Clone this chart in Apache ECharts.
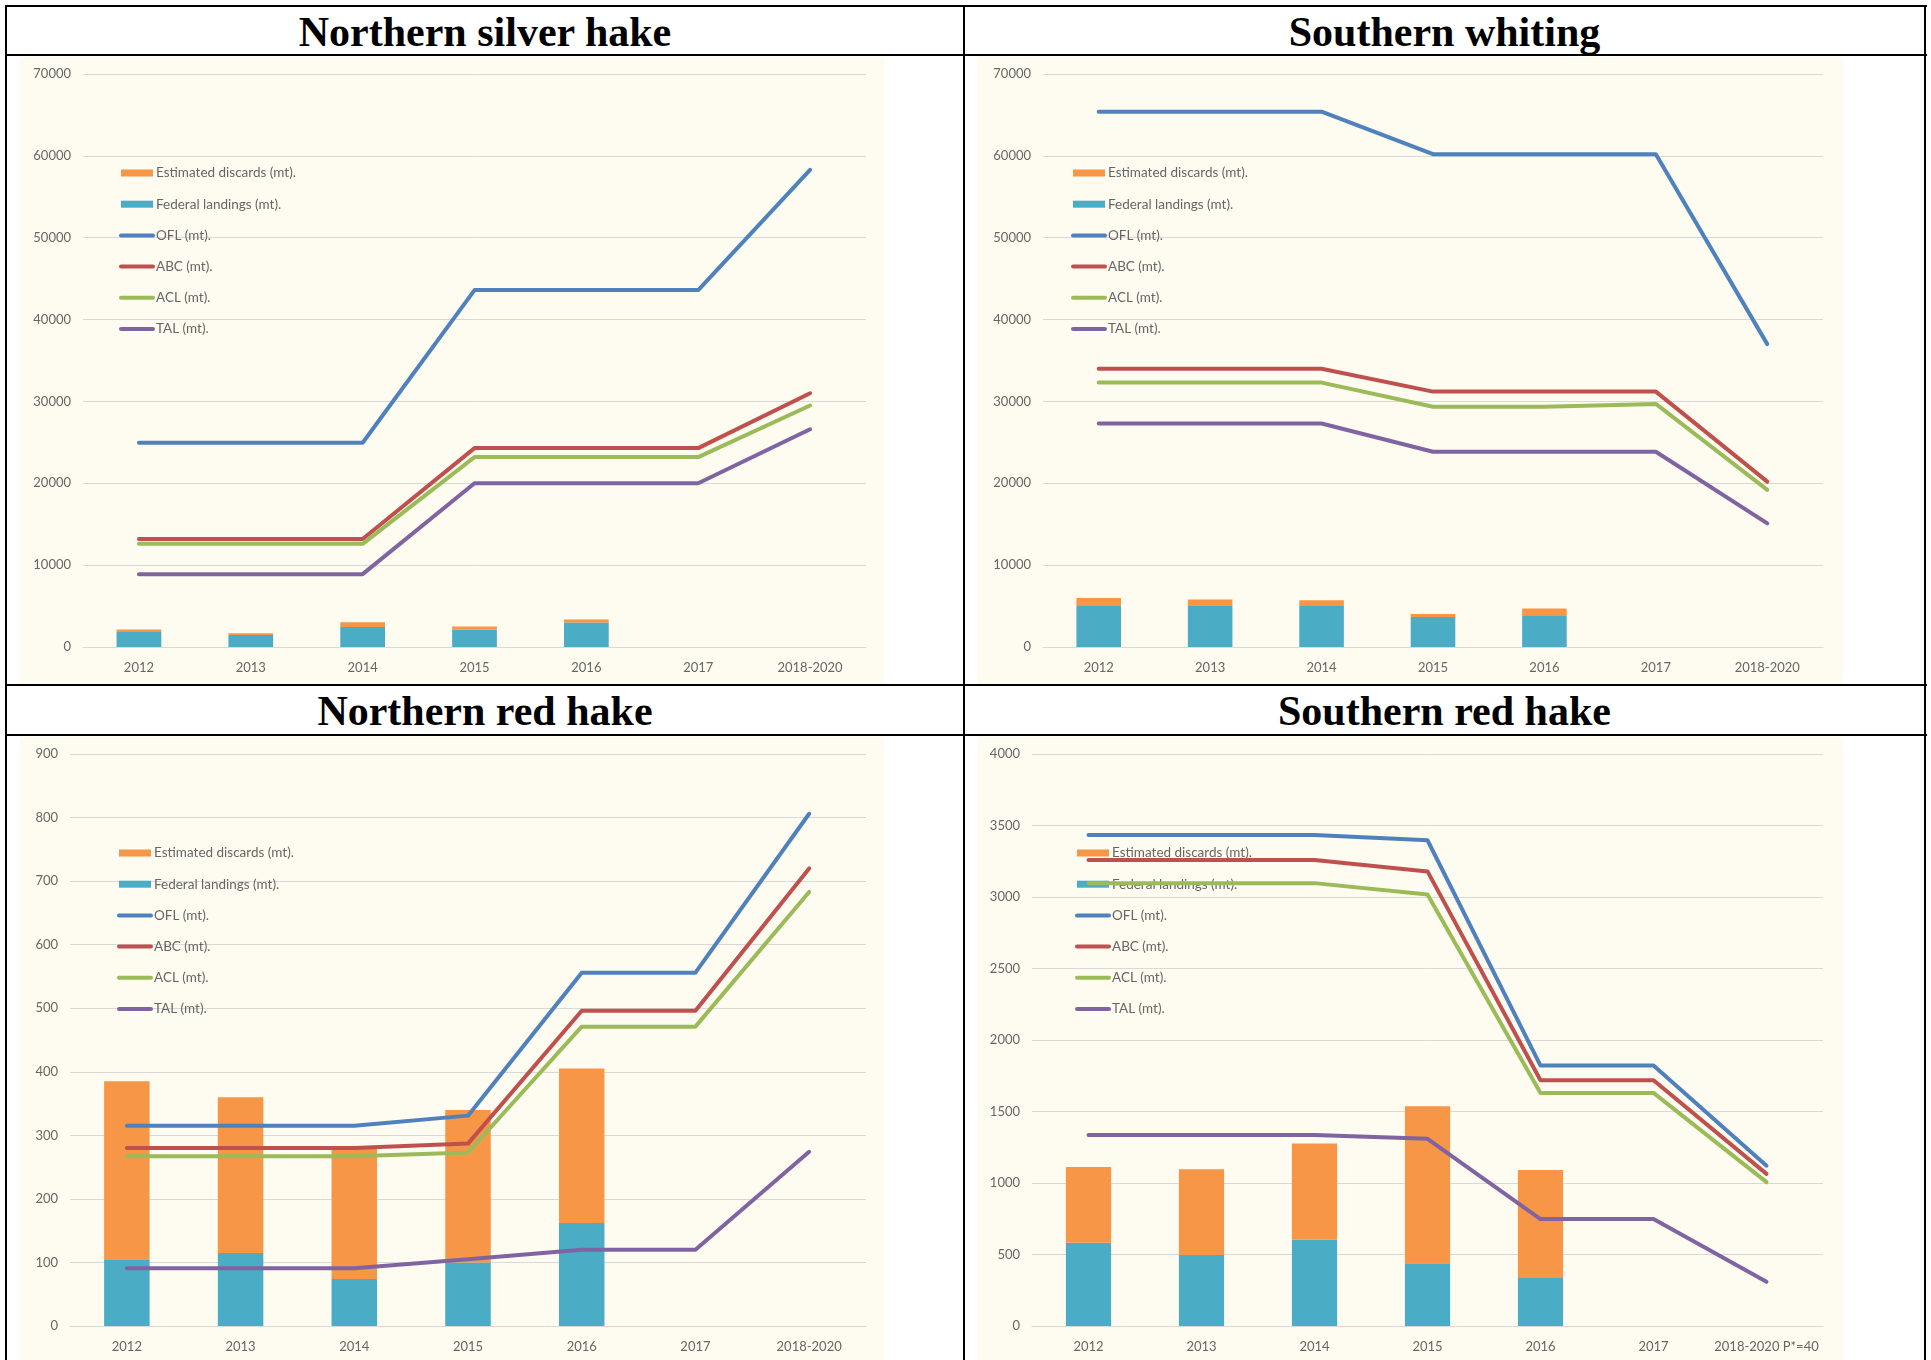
<!DOCTYPE html>
<html>
<head>
<meta charset="utf-8">
<script src="https://cdn.jsdelivr.net/npm/echarts@6/dist/echarts.min.js"></script>
<style>
    body { margin: 0; background: #fff; width: 1931px; height: 1360px; position: relative; overflow: hidden; }
    .ln { position: absolute; background: #000; }
    .title { position: absolute; text-align: center; font-family: 'Liberation Serif', 'Times New Roman', serif; font-weight: bold; font-size: 42px; line-height: 50px; color: #000; }
    .chart { position: absolute; background: #fefbf0; }
</style>
</head>
<body>
<!-- table borders -->
<div class="ln" style="left:5px;top:5px;width:1922px;height:2px"></div>
<div class="ln" style="left:5px;top:54px;width:1922px;height:2px"></div>
<div class="ln" style="left:5px;top:684px;width:1922px;height:2px"></div>
<div class="ln" style="left:5px;top:734px;width:1922px;height:2px"></div>
<div class="ln" style="left:5px;top:5px;width:2px;height:1360px"></div>
<div class="ln" style="left:963px;top:5px;width:2px;height:1360px"></div>
<div class="ln" style="left:1924px;top:5px;width:2px;height:1360px"></div>

<div class="title" style="left:7px;top:7px;width:956px;">Northern silver hake</div>
<div class="title" style="left:965px;top:7px;width:959px;">Southern whiting</div>
<div class="title" style="left:7px;top:686px;width:956px;">Northern red hake</div>
<div class="title" style="left:965px;top:686px;width:959px;">Southern red hake</div>

<div id="c1" class="chart" style="left:20px;top:57px;width:864px;height:627px"></div>
<div id="c2" class="chart" style="left:978px;top:57px;width:865px;height:627px"></div>
<div id="c3" class="chart" style="left:20px;top:737px;width:864px;height:623px"></div>
<div id="c4" class="chart" style="left:978px;top:737px;width:865px;height:623px"></div>

<script>
// categories
const years = ['2012', '2013', '2014', '2015', '2016', '2017', '2018-2020']
const yearsSrh = ['2012', '2013', '2014', '2015', '2016', '2017', '2018-2020 P*=40']

// Northern silver hake
const nshDiscards = [300, 200, 570, 350, 350, null, null]
const nshLandings = [1830, 1470, 2450, 2150, 3000, null, null]
const nshOfl = [24950, 24950, 24950, 43600, 43600, 43600, 58300]
const nshAbc = [13200, 13200, 13200, 24300, 24300, 24300, 31000]
const nshAcl = [12600, 12600, 12600, 23200, 23200, 23200, 29500]
const nshTal = [8900, 8900, 8900, 20000, 20000, 20000, 26600]

// Southern whiting
const swDiscards = [1000, 700, 700, 380, 900, null, null]
const swLandings = [5000, 5100, 5000, 3660, 3800, null, null]
const swOfl = [65400, 65400, 65400, 60200, 60200, 60200, 37000]
const swAbc = [34000, 34000, 34000, 31200, 31200, 31200, 20200]
const swAcl = [32300, 32300, 32300, 29350, 29350, 29700, 19200]
const swTal = [27300, 27300, 27300, 23850, 23850, 23850, 15100]

// Northern red hake
const nrhDiscards = [280, 245, 207, 240, 243, null, null]
const nrhLandings = [105, 115, 74, 100, 162, null, null]
const nrhOfl = [315, 315, 315, 331, 556, 556, 806]
const nrhAbc = [280, 280, 280, 287, 496, 496, 720]
const nrhAcl = [267, 267, 267, 273, 471, 471, 683]
const nrhTal = [91, 91, 91, 105, 120, 120, 274]

// Southern red hake
const srhDiscards = [530, 600, 673, 1097, 755, null, null]
const srhLandings = [582, 497, 603, 439, 336, null, null]
const srhOfl = [3433, 3433, 3433, 3397, 1821, 1821, 1121]
const srhAbc = [3258, 3258, 3258, 3179, 1718, 1718, 1064]
const srhAcl = [3097, 3097, 3097, 3018, 1630, 1630, 1006]
const srhTal = [1336, 1336, 1336, 1309, 748, 748, 309]

const names = ['Estimated discards (mt).', 'Federal landings (mt).', 'OFL (mt).', 'ABC (mt).', 'ACL (mt).', 'TAL (mt).']
const colors = ['#f79646', '#4bacc6', '#4f81bd', '#c0504d', '#9bbb59', '#8064a2']
const font = 'Lato, "Open Sans", sans-serif'
const txt = '#666666'

function makeChart(id, cats, d, yMax, yStep, grid, legendLeft) {
    const chart = echarts.init(document.getElementById(id))
    const line = (name, data, color) => ({
        name: name,
        type: 'line',
        data: data,
        symbol: 'none',
        z: 5,
        lineStyle: { width: 4, color: color, cap: 'round', join: 'round' },
        itemStyle: { color: color },
    })
    // line entries in the legend: hide the default symbol dot, keep a thick stroke
    const lineItem = (name) => ({ name: name, itemStyle: { opacity: 0 }, lineStyle: { width: 4 } })
    const option = {
        animation: false,
        backgroundColor: 'transparent',
        textStyle: { fontFamily: font },
        grid: grid,
        legend: {
            orient: 'vertical',
            left: legendLeft,
            top: 109,
            padding: 0,
            itemWidth: 32,
            itemHeight: 7,
            itemGap: 17.2,
            textStyle: { color: txt, fontSize: 13.5, fontFamily: font, padding: [0, 0, 0, -2] },
            data: [
                { name: names[0], icon: 'rect' },
                { name: names[1], icon: 'rect' },
                lineItem(names[2]), lineItem(names[3]), lineItem(names[4]), lineItem(names[5]),
            ],
        },
        xAxis: {
            type: 'category',
            data: cats,
            axisTick: { show: false },
            axisLine: { lineStyle: { color: '#d9d9d9', width: 1 } },
            axisLabel: { color: txt, fontSize: 13, margin: 14, interval: 0, fontFamily: font },
        },
        yAxis: {
            type: 'value',
            min: 0,
            max: yMax,
            interval: yStep,
            axisLine: { show: false },
            axisTick: { show: false },
            axisLabel: { color: txt, fontSize: 13, margin: 12, fontFamily: font, formatter: (v) => String(v) },
            splitLine: { lineStyle: { color: '#d9d9d9', width: 1 } },
        },
        series: [
            { name: names[1], type: 'bar', stack: 'catch', data: d[1], barWidth: '40%', itemStyle: { color: colors[1] } },
            { name: names[0], type: 'bar', stack: 'catch', data: d[0], barWidth: '40%', itemStyle: { color: colors[0] } },
            line(names[2], d[2], colors[2]),
            line(names[3], d[3], colors[3]),
            line(names[4], d[4], colors[4]),
            line(names[5], d[5], colors[5]),
        ],
    }
    chart.setOption(option)
    window.addEventListener('resize', chart.resize)
    return chart
}

makeChart('c1', years, [nshDiscards, nshLandings, nshOfl, nshAbc, nshAcl, nshTal], 70000, 10000,
    { left: 63, right: 18, top: 17, bottom: 37 }, 99)
makeChart('c2', years, [swDiscards, swLandings, swOfl, swAbc, swAcl, swTal], 70000, 10000,
    { left: 65, right: 20, top: 17, bottom: 37 }, 93)
makeChart('c3', years, [nrhDiscards, nrhLandings, nrhOfl, nrhAbc, nrhAcl, nrhTal], 900, 100,
    { left: 50, right: 18, top: 17, bottom: 34 }, 97)
makeChart('c4', yearsSrh, [srhDiscards, srhLandings, srhOfl, srhAbc, srhAcl, srhTal], 4000, 500,
    { left: 54, right: 20, top: 17, bottom: 34 }, 97)
</script>
</body>
</html>
